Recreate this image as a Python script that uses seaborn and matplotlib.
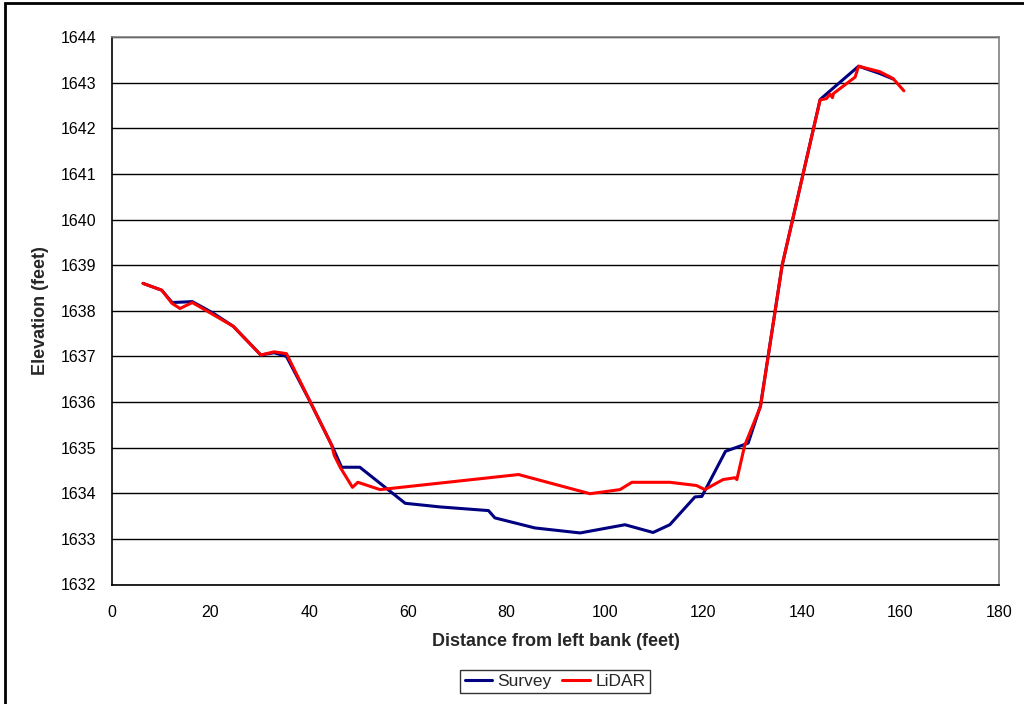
import matplotlib
matplotlib.use("Agg")
import matplotlib.pyplot as plt
import seaborn as sns
import pandas as pd
from matplotlib.patches import Rectangle

# Cross-section profile: surveyed ground vs. LiDAR-derived ground
survey_x = [6.3, 10.1, 12.2, 16.3, 20.5, 24.6, 30.2, 32.9, 35.4, 40.0, 44.6, 46.6,
            50.3, 59.5, 66.6, 76.4, 77.7, 85.8, 95.0, 104.1, 109.8, 113.2, 118.3,
            119.7, 124.5, 128.4, 129.1, 131.6, 136.0, 143.7, 145.5, 151.5, 155.8, 158.5]
survey_y = [1638.60, 1638.45, 1638.18, 1638.20, 1637.95, 1637.66, 1637.03, 1637.08,
            1637.00, 1636.05, 1635.05, 1634.57, 1634.57, 1633.78, 1633.70, 1633.62,
            1633.46, 1633.24, 1633.13, 1633.31, 1633.14, 1633.31, 1633.92, 1633.93,
            1634.92, 1635.07, 1635.10, 1635.92, 1639.00, 1642.63, 1642.80, 1643.36,
            1643.20, 1643.08]

lidar_x = [6.3, 10.1, 12.2, 13.8, 16.3, 24.6, 30.2, 32.9, 35.4, 38.1, 44.6, 45.1,
           46.3, 48.8, 49.9, 54.4, 82.5, 97.0, 103.1, 105.5, 113.2, 118.6, 120.3,
           124.0, 126.4, 126.8, 128.4, 129.3, 131.6, 136.0, 143.7, 145.0, 145.7,
           146.2, 146.4, 150.8, 151.5, 155.8, 158.5, 160.7]
lidar_y = [1638.60, 1638.45, 1638.16, 1638.05, 1638.18, 1637.66, 1637.03, 1637.10,
           1637.06, 1636.47, 1635.05, 1634.83, 1634.57, 1634.13, 1634.24, 1634.08,
           1634.41, 1633.99, 1634.08, 1634.24, 1634.24, 1634.17, 1634.08, 1634.30,
           1634.34, 1634.30, 1635.05, 1635.29, 1635.90, 1639.00, 1642.62, 1642.65,
           1642.75, 1642.67, 1642.76, 1643.12, 1643.36, 1643.24, 1643.09, 1642.82]

series_names = ["Survey", "LiDAR"]
series_colors = ["#000080", "#FF0000"]

df = pd.concat([
    pd.DataFrame({"x": survey_x, "y": survey_y, "series": series_names[0]}),
    pd.DataFrame({"x": lidar_x, "y": lidar_y, "series": series_names[1]}),
], ignore_index=True)

sns.set_style("white")
plt.rcParams["font.family"] = ["Liberation Sans", "DejaVu Sans"]

fig = plt.figure(figsize=(10.24, 7.04), dpi=100)
ax = fig.add_axes([112 / 1024, 1 - 584.5 / 704, (999 - 112) / 1024, (584.5 - 37) / 704])

sns.lineplot(data=df, x="x", y="y", hue="series", sort=False, estimator=None,
             palette=dict(zip(series_names, series_colors)), linewidth=2.2,
             ax=ax, legend=False, zorder=3)

ax.set_xlim(0, 180)
ax.set_ylim(1632, 1644)
ax.set_xticks(range(0, 181, 20))
ax.set_yticks(range(1632, 1645, 1))
ax.tick_params(axis="both", direction="out", length=5, width=1, labelsize=11.5,
               labelcolor="black")
ax.tick_params(axis="y", pad=6.5, color="black")
ax.tick_params(axis="x", pad=10, color="#808080")
ax.grid(axis="y", color="black", linewidth=1)
ax.grid(axis="x", visible=False)
ax.set_axisbelow(True)
for side in ["left", "bottom"]:
    ax.spines[side].set_color("black")
    ax.spines[side].set_linewidth(1.2)
for side in ["top", "right"]:
    ax.spines[side].set_color("#808080")
    ax.spines[side].set_linewidth(1.2)

ax.set_xlabel("Distance from left bank (feet)", fontsize=13, fontweight="bold", labelpad=9)
ax.set_ylabel("Elevation (feet)", fontsize=13, fontweight="bold", labelpad=8)

handles = [plt.Line2D([], [], color=c, linewidth=2.2) for c in series_colors]
fig.legend(handles, series_names, loc="center", bbox_to_anchor=(555 / 1024, 1 - 681.5 / 704),
           ncol=2, frameon=True, fancybox=False, edgecolor="black", fontsize=12.5,
           handlelength=1.6, handletextpad=0.3, columnspacing=0.6, borderpad=0.25,
           borderaxespad=0)

# outer chart border
fig.patches.append(Rectangle((5 / 1024, -0.05), 1.2, 1 - 3 / 704 + 0.05,
                             transform=fig.transFigure, fill=False,
                             edgecolor="black", linewidth=2, zorder=0))

fig.savefig("out.png", dpi=100)
